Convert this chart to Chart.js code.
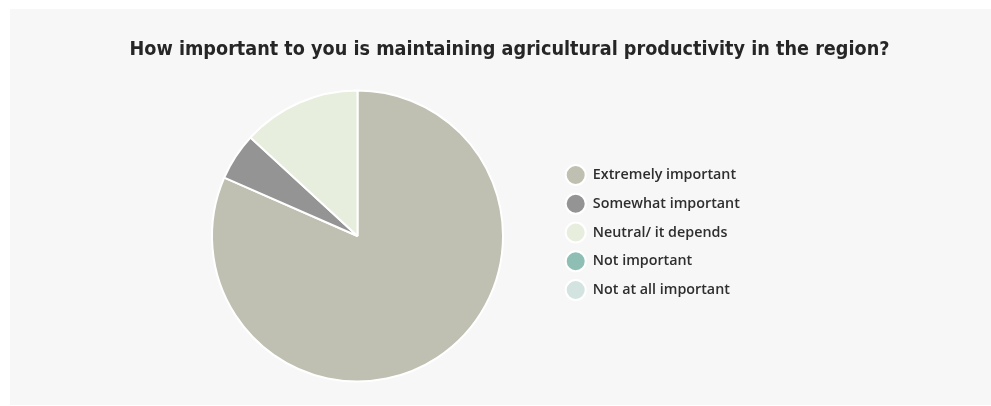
<!DOCTYPE html>
<html>
<head>
<meta charset="utf-8">
<script src="https://cdn.jsdelivr.net/npm/chart.js@4/dist/chart.umd.min.js"></script>
<style>
  html, body { margin: 0; padding: 0; background: #ffffff; }
  #panel {
    position: absolute; left: 10px; top: 9px;
    width: 981px; height: 396px;
    background: #f7f7f7;
  }
  #panel canvas { display: block; }
</style>
</head>
<body>
<div id="panel"><canvas id="chart" width="981" height="396"></canvas></div>
<script>
// Survey question and answers
const chartTitle = 'How important to you is maintaining agricultural productivity in the region?';
const categories = [
  'Extremely important',
  'Somewhat important',
  'Neutral/ it depends',
  'Not important',
  'Not at all important'
];
const responses = [31, 2, 5, 0, 0];
const palette = ['#bfc0b1', '#949494', '#e7eedd', '#8fbfb4', '#d2e3e0'];

// Invisible layout boxes: a gutter left of the pie, and a box stacked with
// the legend in the right-hand column. They place the pie and legend while
// the full-width title stays centred over the panel. The stacked box also
// takes a thin slice of the column height so the legend sits a little
// higher. Boxes sharing a stack each reserve half of their own width, so it
// makes up whatever the legend leaves of the wanted column width.
const sideGutters = {
  id: 'sideGutters',
  beforeInit(chart) {
    const cfg = chart.options.plugins.sideGutters || {};
    const makeBox = (position, weight, options, widthFn) => ({
      position, weight, fullSize: false, options,
      left: 0, top: 0, right: 0, bottom: 0, width: 0, height: 0,
      isHorizontal() { return false; },
      update(maxWidth, maxHeight) {
        this.width = widthFn();
        this.height = maxHeight;
      },
      draw() {}
    });
    Chart.layouts.addBox(chart, makeBox('left', 0, { display: false }, () => cfg.left || 0));
    Chart.layouts.addBox(chart, makeBox('right', 1100,
      { display: false, stack: cfg.stack, stackWeight: cfg.stackWeight },
      () => Math.max(2 * (cfg.right || 0) - (chart.legend ? chart.legend.width : 0), 0)));
  }
};

new Chart(document.getElementById('chart'), {
  type: 'pie',
  data: {
    labels: categories,
    datasets: [{
      data: responses,
      backgroundColor: palette,
      borderColor: '#ffffff',
      borderWidth: 2,
      hoverOffset: 0
    }]
  },
  plugins: [sideGutters],
  options: {
    responsive: false,
    animation: false,
    events: [],
    // the title is fitted to the width left between these paddings
    layout: { padding: { left: 119.5, right: 101.5, top: 0, bottom: 22.5 } },
    plugins: {
      sideGutters: { left: 34.25, right: 338.25, stack: 'side', stackWeight: 0.024 },
      title: {
        display: true,
        text: chartTitle,
        color: '#262626',
        font: { family: '"DejaVu Sans", sans-serif', size: 19, weight: 'bold', lineHeight: 1.2 },
        padding: { top: 29.6, bottom: 28.1 }
      },
      legend: {
        display: true,
        position: 'right',
        align: 'center',
        fullSize: false,
        stack: 'side',
        stackWeight: 0.976,
        labels: {
          usePointStyle: true,
          pointStyle: 'circle',
          pointStyleWidth: 20,
          boxHeight: 14,
          padding: 14.45,
          color: '#2e2e2e',
          font: { family: '"Open Sans", sans-serif', size: 14.3, weight: '600' }
        }
      },
      tooltip: { enabled: false }
    }
  }
});
</script>
</body>
</html>
